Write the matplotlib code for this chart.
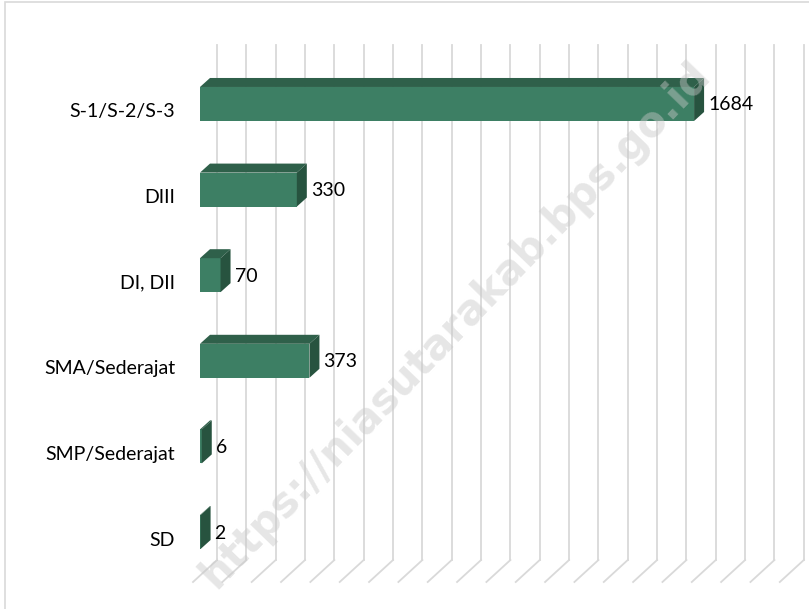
import numpy as np
import matplotlib.pyplot as plt
from matplotlib.patches import Polygon, Rectangle

categories = ["SD", "SMP/Sederajat", "SMA/Sederajat", "DI, DII", "DIII", "S-1/S-2/S-3"]
values = [2, 6, 373, 70, 330, 1684]
grid_ticks = np.arange(0, 2001, 100)

front_col = "#3d7f64"
top_col = "#2f604a"
side_col = "#27533f"

# pixel -> data scale
px_x = 1 / 0.2934   # x units per pixel
px_y = 1 / 85.6     # y units per pixel

fig = plt.figure(figsize=(8.09, 6.09), dpi=100)
fig.patches.append(Rectangle((5 / 809, -0.1), 1.2, 1 - 2 / 609 + 0.1, transform=fig.transFigure,
                             fill=False, edgecolor="#d9d9d9", lw=1.2))

ax = fig.add_axes([200 / 809, 27 / 609, 586.8 / 809, 537 / 609])
ax.set_xlim(0, 2000)
ax.set_ylim(-0.584, 5.689)
ax.axis("off")

# back wall gridlines + floor
y_floor = -28 * px_y
for g in grid_ticks:
    xb = g + 17 * px_x
    ax.plot([xb, xb], [y_floor, 5.689], color="#d9d9d9", lw=1.3, clip_on=False, zorder=1)
    ax.plot([xb, g - 7 * px_x], [y_floor, -0.584], color="#d9d9d9", lw=1.3, clip_on=False, zorder=1)

dx = 10 * px_x
dy = 9 * px_y
h = 17 * px_y
ys = np.arange(len(categories))
ax.barh(ys, values, height=2 * h, color=front_col, zorder=3, clip_on=False)
for y, v, name in zip(ys, values, categories):
    ax.add_patch(Polygon([(0, y + h), (v, y + h), (v + dx, y + h + dy), (dx, y + h + dy)],
                         closed=True, facecolor=top_col, edgecolor="none", zorder=3, clip_on=False))
    ax.add_patch(Polygon([(v, y - h), (v + dx, y - h + dy), (v + dx, y + h + dy), (v, y + h)],
                         closed=True, facecolor=side_col, edgecolor="none", zorder=3, clip_on=False))
    ax.text(v + 14 * px_x, y - 1 * px_y, str(v), ha="left", va="center",
            fontsize=14, family="Lato", color="black", zorder=5)
    ax.text(-25 * px_x, y - 8 * px_y, name, ha="right", va="center",
            fontsize=14, family="Lato", color="black", zorder=5)

fig.text(455 / 809, 1 - 325 / 609, "https://niasutarakab.bps.go.id", rotation=46,
         ha="center", va="center", fontsize=30, fontweight="bold", family="DejaVu Sans",
         color="#c8c8c8", alpha=0.45, zorder=10)

fig.savefig("out.png", dpi=100)
